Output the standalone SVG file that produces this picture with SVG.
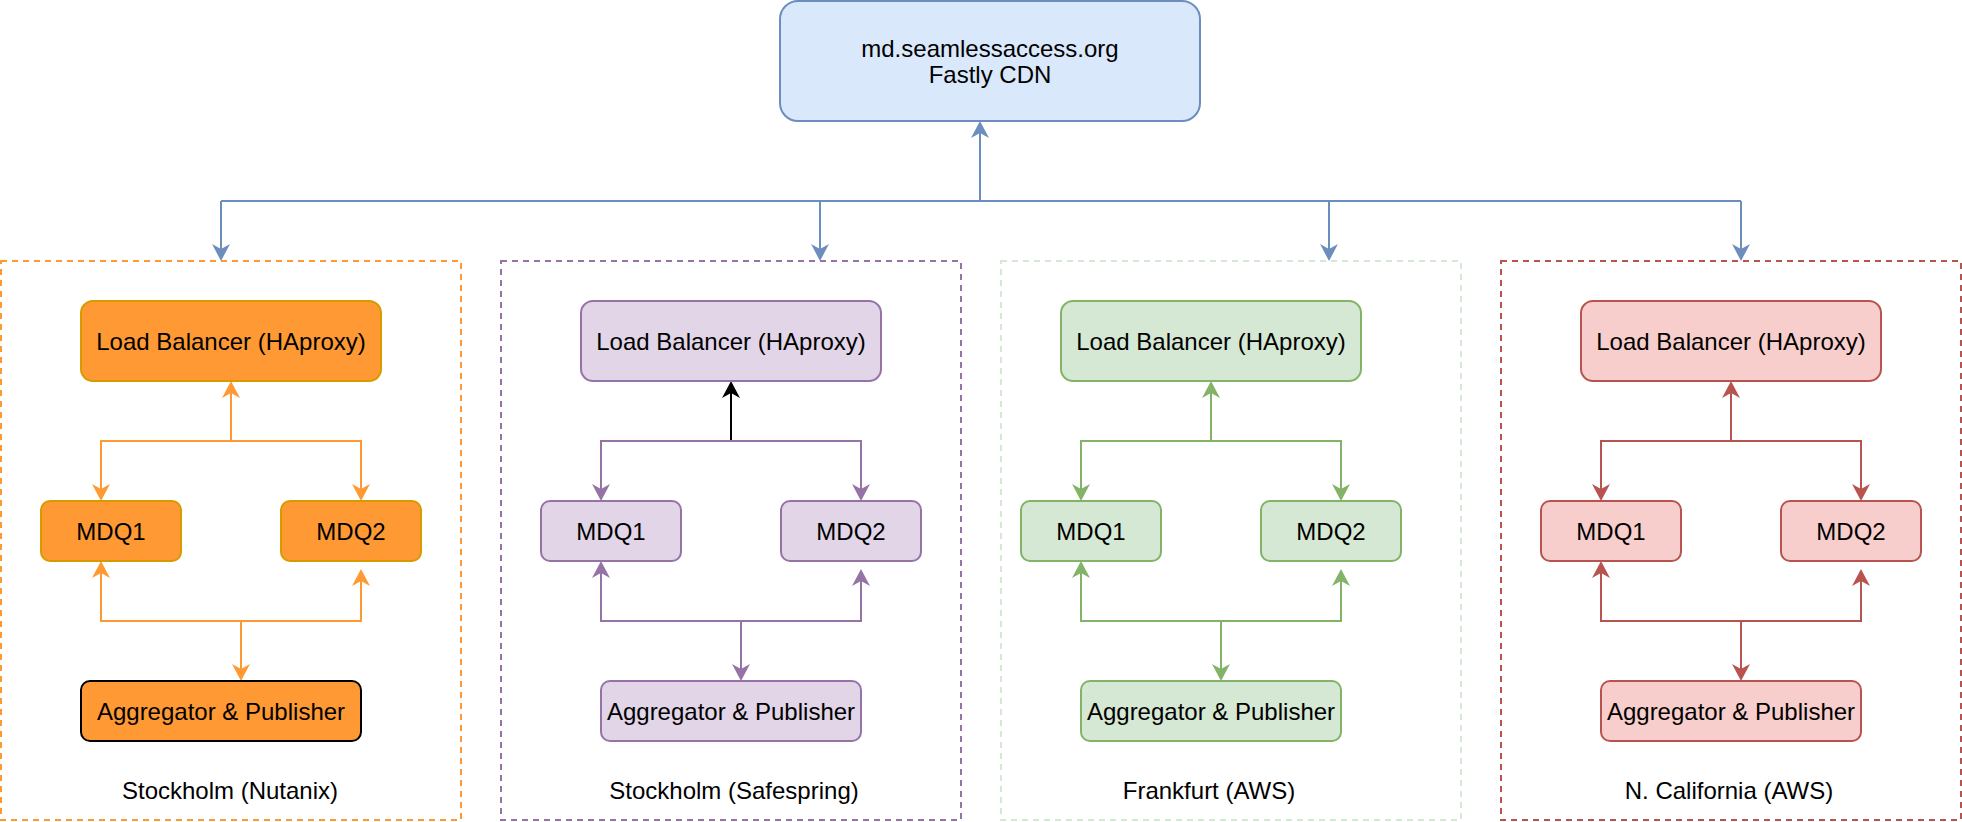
<svg xmlns="http://www.w3.org/2000/svg" width="1962" height="822" viewBox="0 0 1962 822">
<style>
text{font-family:"Liberation Sans",Arial,Helvetica,sans-serif;font-size:24px;fill:#000;text-anchor:middle}
.box{stroke-width:2}
.zone{fill:none;stroke-width:2;stroke-dasharray:6 5}
.c{fill:none;stroke-width:2}
.blue{fill:#dae8fc;stroke:#6c8ebf}
.or{fill:#ff9933;stroke:#d79b00}
.pu{fill:#e1d5e7;stroke:#9673a6}
.gr{fill:#d5e8d4;stroke:#82b366}
.rd{fill:#f8cecc;stroke:#b85450}
</style>
<defs>
<marker id="aB" viewBox="-6 -10 20 20" markerWidth="20" markerHeight="20" refX="0" refY="0" orient="auto" markerUnits="userSpaceOnUse"><path d="M12,0 L-5,-9 L0,0 L-5,9 Z" fill="#6c8ebf"/></marker>
<marker id="aO" viewBox="-6 -10 20 20" markerWidth="20" markerHeight="20" refX="0" refY="0" orient="auto" markerUnits="userSpaceOnUse"><path d="M12,0 L-5,-9 L0,0 L-5,9 Z" fill="#ff9933"/></marker>
<marker id="aP" viewBox="-6 -10 20 20" markerWidth="20" markerHeight="20" refX="0" refY="0" orient="auto" markerUnits="userSpaceOnUse"><path d="M12,0 L-5,-9 L0,0 L-5,9 Z" fill="#9673a6"/></marker>
<marker id="aG" viewBox="-6 -10 20 20" markerWidth="20" markerHeight="20" refX="0" refY="0" orient="auto" markerUnits="userSpaceOnUse"><path d="M12,0 L-5,-9 L0,0 L-5,9 Z" fill="#82b366"/></marker>
<marker id="aR" viewBox="-6 -10 20 20" markerWidth="20" markerHeight="20" refX="0" refY="0" orient="auto" markerUnits="userSpaceOnUse"><path d="M12,0 L-5,-9 L0,0 L-5,9 Z" fill="#b85450"/></marker>
<marker id="aK" viewBox="-6 -10 20 20" markerWidth="20" markerHeight="20" refX="0" refY="0" orient="auto" markerUnits="userSpaceOnUse"><path d="M12,0 L-5,-9 L0,0 L-5,9 Z" fill="#000"/></marker>
</defs>

<g id="zones">
<rect id="zone-nutanix" class="zone" x="1" y="261" width="460" height="559" stroke="#ff9933"/>
<rect id="zone-safespring" class="zone" x="501" y="261" width="460" height="559" stroke="#9673a6"/>
<rect id="zone-frankfurt" class="zone" x="1001" y="261" width="460" height="559" stroke="#d5e8d4"/>
<rect id="zone-california" class="zone" x="1501" y="261" width="460" height="559" stroke="#b85450"/>
</g>

<g id="connectors">
<g stroke="#6c8ebf" class="c">
<path class="c" stroke="#6c8ebf" d="M221 201 H1741"/>
<path class="c" stroke="#6c8ebf" d="M980 201 V133" marker-end="url(#aB)"/>
<path class="c" stroke="#6c8ebf" d="M221 201 V249" marker-end="url(#aB)"/>
<path class="c" stroke="#6c8ebf" d="M820 201 V249" marker-end="url(#aB)"/>
<path class="c" stroke="#6c8ebf" d="M1329 201 V249" marker-end="url(#aB)"/>
<path class="c" stroke="#6c8ebf" d="M1741 201 V249" marker-end="url(#aB)"/>
</g>
<g>
<path class="c" stroke="#ff9933" d="M231 441 V393" marker-end="url(#aO)"/>
<path class="c" stroke="#ff9933" d="M231 441 H101 V489" marker-end="url(#aO)"/>
<path class="c" stroke="#ff9933" d="M231 441 H361 V489" marker-end="url(#aO)"/>
<path class="c" stroke="#ff9933" d="M241 621 H101 V573" marker-end="url(#aO)"/>
<path class="c" stroke="#ff9933" d="M241 621 H361 V581" marker-end="url(#aO)"/>
<path class="c" stroke="#ff9933" d="M241 621 V669" marker-end="url(#aO)"/>
</g>
<g>
<path class="c" stroke="#000" d="M731 441 V393" marker-end="url(#aK)"/>
<path class="c" stroke="#9673a6" d="M731 441 H601 V489" marker-end="url(#aP)"/>
<path class="c" stroke="#9673a6" d="M731 441 H861 V489" marker-end="url(#aP)"/>
<path class="c" stroke="#9673a6" d="M741 621 H601 V573" marker-end="url(#aP)"/>
<path class="c" stroke="#9673a6" d="M741 621 H861 V581" marker-end="url(#aP)"/>
<path class="c" stroke="#9673a6" d="M741 621 V669" marker-end="url(#aP)"/>
</g>
<g>
<path class="c" stroke="#82b366" d="M1211 441 V393" marker-end="url(#aG)"/>
<path class="c" stroke="#82b366" d="M1211 441 H1081 V489" marker-end="url(#aG)"/>
<path class="c" stroke="#82b366" d="M1211 441 H1341 V489" marker-end="url(#aG)"/>
<path class="c" stroke="#82b366" d="M1221 621 H1081 V573" marker-end="url(#aG)"/>
<path class="c" stroke="#82b366" d="M1221 621 H1341 V581" marker-end="url(#aG)"/>
<path class="c" stroke="#82b366" d="M1221 621 V669" marker-end="url(#aG)"/>
</g>
<g>
<path class="c" stroke="#b85450" d="M1731 441 V393" marker-end="url(#aR)"/>
<path class="c" stroke="#b85450" d="M1731 441 H1601 V489" marker-end="url(#aR)"/>
<path class="c" stroke="#b85450" d="M1731 441 H1861 V489" marker-end="url(#aR)"/>
<path class="c" stroke="#b85450" d="M1741 621 H1601 V573" marker-end="url(#aR)"/>
<path class="c" stroke="#b85450" d="M1741 621 H1861 V581" marker-end="url(#aR)"/>
<path class="c" stroke="#b85450" d="M1741 621 V669" marker-end="url(#aR)"/>
</g>
</g>

<g id="cdn"><rect class="box blue" x="780" y="1" width="420" height="120" rx="18"/><text x="990" y="56.5">md.seamlessaccess.org</text><text x="990" y="83">Fastly CDN</text></g>

<g id="lb-nutanix"><rect class="box or" x="81" y="301" width="300" height="80" rx="12"/><text x="231" y="349.5">Load Balancer (HAproxy)</text></g>
<g id="mdq1-nutanix"><rect class="box or" x="41" y="501" width="140" height="60" rx="9"/><text x="111" y="539.5">MDQ1</text></g>
<g id="mdq2-nutanix"><rect class="box or" x="281" y="501" width="140" height="60" rx="9"/><text x="351" y="539.5">MDQ2</text></g>
<g id="agg-nutanix"><rect class="box" fill="#ff9933" stroke="#000" x="81" y="681" width="280" height="60" rx="9"/><text x="221" y="719.5">Aggregator &amp; Publisher</text></g>
<g id="label-nutanix"><text x="230" y="799">Stockholm (Nutanix)</text></g>

<g id="lb-safespring"><rect class="box pu" x="581" y="301" width="300" height="80" rx="12"/><text x="731" y="349.5">Load Balancer (HAproxy)</text></g>
<g id="mdq1-safespring"><rect class="box pu" x="541" y="501" width="140" height="60" rx="9"/><text x="611" y="539.5">MDQ1</text></g>
<g id="mdq2-safespring"><rect class="box pu" x="781" y="501" width="140" height="60" rx="9"/><text x="851" y="539.5">MDQ2</text></g>
<g id="agg-safespring"><rect class="box pu" x="601" y="681" width="260" height="60" rx="9"/><text x="731" y="719.5">Aggregator &amp; Publisher</text></g>
<g id="label-safespring"><text x="734" y="799">Stockholm (Safespring)</text></g>

<g id="lb-frankfurt"><rect class="box gr" x="1061" y="301" width="300" height="80" rx="12"/><text x="1211" y="349.5">Load Balancer (HAproxy)</text></g>
<g id="mdq1-frankfurt"><rect class="box gr" x="1021" y="501" width="140" height="60" rx="9"/><text x="1091" y="539.5">MDQ1</text></g>
<g id="mdq2-frankfurt"><rect class="box gr" x="1261" y="501" width="140" height="60" rx="9"/><text x="1331" y="539.5">MDQ2</text></g>
<g id="agg-frankfurt"><rect class="box gr" x="1081" y="681" width="260" height="60" rx="9"/><text x="1211" y="719.5">Aggregator &amp; Publisher</text></g>
<g id="label-frankfurt"><text x="1209" y="799">Frankfurt (AWS)</text></g>

<g id="lb-california"><rect class="box rd" x="1581" y="301" width="300" height="80" rx="12"/><text x="1731" y="349.5">Load Balancer (HAproxy)</text></g>
<g id="mdq1-california"><rect class="box rd" x="1541" y="501" width="140" height="60" rx="9"/><text x="1611" y="539.5">MDQ1</text></g>
<g id="mdq2-california"><rect class="box rd" x="1781" y="501" width="140" height="60" rx="9"/><text x="1851" y="539.5">MDQ2</text></g>
<g id="agg-california"><rect class="box rd" x="1601" y="681" width="260" height="60" rx="9"/><text x="1731" y="719.5">Aggregator &amp; Publisher</text></g>
<g id="label-california"><text x="1729" y="799">N. California (AWS)</text></g>
</svg>
